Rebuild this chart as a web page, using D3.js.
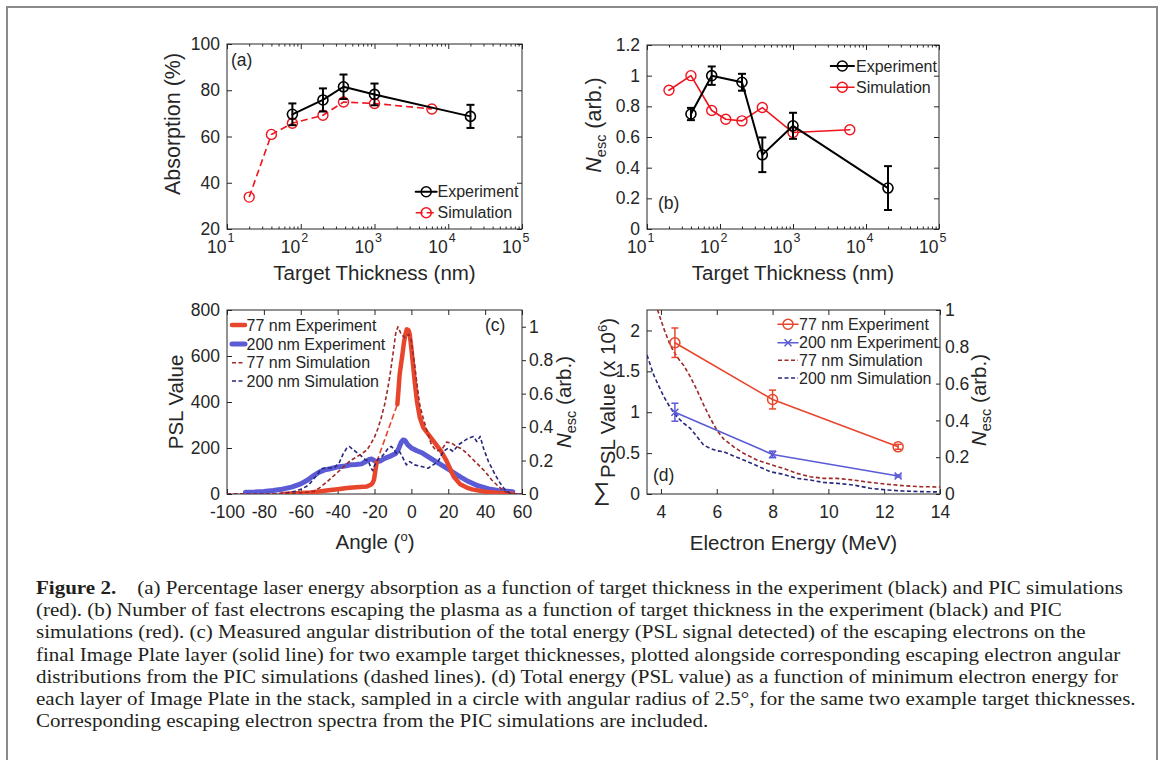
<!DOCTYPE html>
<html><head><meta charset="utf-8">
<script src="https://cdn.jsdelivr.net/npm/d3@7"></script>
<style>
body{margin:0;background:#fff}
svg text{font-family:"Liberation Sans",Arial,sans-serif;fill:#262626}
</style>
</head><body>
<svg id="fig" width="1165" height="760"></svg>
<script>
// ---------------- DATA ----------------
// (a) absorption vs thickness
const absExpThick = [77, 200, 380, 1000, 20000];
const absExpVal   = [69.6, 75.8, 81.5, 78.2, 68.7];
const absExpErr   = [4.7, 5.0, 5.3, 4.7, 5.0];
const absSimThick = [20, 40, 77, 200, 380, 1000, 6000];
const absSimVal   = [33.8, 60.9, 65.7, 69.2, 74.9, 74.3, 71.9];
// (b) N_esc vs thickness
const nescExpThick = [40, 77, 200, 380, 1000, 20000];
const nescExpVal   = [0.75, 1.0, 0.957, 0.484, 0.673, 0.267];
const nescExpErr   = [0.04, 0.06, 0.055, 0.113, 0.085, 0.143];
const nescSimThick = [20, 40, 77, 120, 200, 380, 1000, 6000];
const nescSimVal   = [0.905, 1.0, 0.773, 0.716, 0.705, 0.792, 0.629, 0.647];
// (c) angular distributions
const c77ExpAngleA = [-70,-65,-60,-55,-50,-45,-40,-35,-30,-26,-24,-22,-21,-20.3,-19.6,-18.8];
const c77ExpPslA   = [0,2,4,7,11,16,21,26,29,31,33,40,48,61,97,140];
const c77ExpAngleB = [-7.6,-7,-6.4,-5.5,-4.9,-4,-3.3,-2.5,-1.5,-0.9,0,0.9,1.8,3,4.5,6.4,9,12,16,19,21,23,26.5,30,33,40,48,55];
const c77ExpPslB   = [390,450,517,570,604,660,691,716,712,695,633,561,490,405,335,290,262,230,188,145,110,75,42,28,20,10,4,1];
const c200ExpAngle = [-90,-85,-80,-75,-70,-65,-60,-56,-53,-50,-47,-44,-40,-36,-33,-30,-27,-25,-23,-21.5,-20.5,-19,-17,-14.5,-11,-8.5,-7,-5.5,-4.5,-3.5,-2,0,3,6,9,12.5,16,20,23.5,27,31,36,42,47,52,55];
const c200ExpPsl   = [8,9,11,15,21,30,44,62,80,95,105,110,118,122,127,128,131,140,150,152,147,141,143,155,166,176,195,225,235,233,215,200,188,178,163,145,128,108,90,72,54,36,22,15,12,10];
const c77SimAngle = [-100,-90,-80,-70,-62,-57,-53,-50,-46,-43,-40,-36,-33,-30,-27,-24,-22,-20,-18.2,-16.5,-14.5,-13,-11.8,-10,-8.5,-7.3,-6.5,-5.5,-3.6,-1.5,0,1.5,3.3,4.5,6.4,9.1,10.9,13.6,16.4,19.1,21.8,24.5,27.3,30,32.7,36.4,40,43.6,47.3,50.9,54.5,60];
const c77SimVal   = [0,0,0,0.002,0.005,0.01,0.015,0.035,0.07,0.1,0.13,0.17,0.2,0.22,0.24,0.265,0.3,0.34,0.39,0.45,0.535,0.62,0.695,0.835,0.96,1.0,0.98,0.955,0.935,0.955,0.915,0.795,0.635,0.535,0.454,0.354,0.294,0.258,0.264,0.31,0.304,0.284,0.27,0.244,0.214,0.174,0.134,0.084,0.044,0.014,0,0];
const c200SimAngle = [-100,-90,-80,-72,-68,-64,-60,-57,-55,-53,-51,-49,-47,-44,-41.5,-39,-37,-35,-33.6,-31,-28,-25,-23.5,-22,-21,-20,-18,-16,-14.5,-12.5,-11,-10,-8.2,-6.4,-4.5,-2.7,-0.9,1.8,5.5,9.1,11.8,14.5,17.3,20,22.7,25.5,28.2,30.9,33.6,35.5,37.3,39.1,41.8,45.5,48.2,50.9,53.6,56,60];
const c200SimVal   = [0,0,0,0.002,0.006,0.014,0.028,0.045,0.063,0.09,0.115,0.15,0.155,0.155,0.16,0.19,0.24,0.275,0.284,0.26,0.235,0.205,0.2,0.16,0.14,0.17,0.21,0.225,0.244,0.275,0.285,0.274,0.244,0.254,0.214,0.174,0.194,0.174,0.164,0.154,0.174,0.194,0.254,0.274,0.254,0.294,0.314,0.334,0.344,0.314,0.344,0.274,0.194,0.114,0.064,0.024,0.004,0,0];
// (d) PSL vs electron energy
const dExpEnergy = [4.5, 8, 12.5];
const d77ExpPsl  = [1.85, 1.155, 0.577];
const d77ExpErr  = [0.18, 0.115, 0.03];
const d200ExpPsl = [1.0, 0.484, 0.22];
const d200ExpErr = [0.11, 0.04, 0.012];
const dSimEnergy = [3.5,3.74,3.88,4.1,4.33,4.57,4.81,5.05,5.29,5.53,5.77,6.0,6.24,6.6,6.96,7.44,7.91,8.39,8.87,9.35,9.82,10.3,10.9,11.5,12.1,12.7,13.3,14];
const d77SimVal  = [1.35,1.12,1.0,0.9,0.81,0.746,0.70,0.638,0.565,0.484,0.411,0.348,0.30,0.257,0.221,0.185,0.161,0.139,0.112,0.094,0.085,0.085,0.076,0.063,0.053,0.045,0.04,0.038];
const d200SimVal = [0.755,0.647,0.60,0.53,0.47,0.42,0.385,0.357,0.312,0.266,0.248,0.235,0.23,0.207,0.185,0.154,0.121,0.107,0.085,0.076,0.063,0.058,0.049,0.031,0.022,0.016,0.013,0.011];
// ticks
const logTicks = [10, 100, 1000, 10000, 100000];
const logMinor = [20,30,40,50,60,70,80,90,200,300,400,500,600,700,800,900,2000,3000,4000,5000,6000,7000,8000,9000,20000,30000,40000,50000,60000,70000,80000,90000];
const aYTicks = [20, 40, 60, 80, 100];
const bYTicks = [0, 0.2, 0.4, 0.6, 0.8, 1, 1.2];
const cXTicks = [-100, -80, -60, -40, -20, 0, 20, 40, 60];
const cYTicks = [0, 200, 400, 600, 800];
const cRTicks = [0, 0.2, 0.4, 0.6, 0.8, 1];
const dXTicks = [4, 6, 8, 10, 12, 14];
const dYTicks = [0, 0.5, 1, 1.5, 2];
const dRTicks = [0, 0.2, 0.4, 0.6, 0.8, 1];
// legend labels
const legAB = ["Experiment", "Simulation"];
const legCD = ["77 nm Experiment", "200 nm Experiment", "77 nm Simulation", "200 nm Simulation"];
const captionLines = [
  "(a) Percentage laser energy absorption as a function of target thickness in the experiment (black) and PIC simulations",
  "(red). (b) Number of fast electrons escaping the plasma as a function of target thickness in the experiment (black) and PIC",
  "simulations (red). (c) Measured angular distribution of the total energy (PSL signal detected) of the escaping electrons on the",
  "final Image Plate layer (solid line) for two example target thicknesses, plotted alongside corresponding escaping electron angular",
  "distributions from the PIC simulations (dashed lines). (d) Total energy (PSL value) as a function of minimum electron energy for",
  "each layer of Image Plate in the stack, sampled in a circle with angular radius of 2.5°, for the same two example target thicknesses.",
  "Corresponding escaping electron spectra from the PIC simulations are included."
];

// ---------------- STYLE ----------------
const INK = "#262626";
const RED = "#f0141e";
const C77 = "#e8462c";
const C200 = "#5b5bd6";
const C77S = "#9c2a28";
const C200S = "#27277c";
const TICKFS = 17.5, LABFS = 20.5, LEGFS = 16;

const svg = d3.select("#fig");
svg.append("rect").attr("x", 7).attr("y", 7).attr("width", 1150).attr("height", 770)
  .attr("fill", "none").attr("stroke", "#8a8a8a").attr("stroke-width", 2);

function zip(a, b) { return a.map((v, i) => [v, b[i]]); }

function styleAxis(s) {
  s.select(".domain").remove();
  s.selectAll("line").attr("stroke", INK).attr("stroke-width", 1);
  s.selectAll("text").attr("font-size", TICKFS).attr("font-family", "Liberation Sans, Arial, sans-serif").attr("fill", INK);
  s.attr("font-size", null).attr("font-family", null);
}
function box(g, x, y) {
  const [x0, x1] = x.range(), [y1, y0] = y.range();
  g.append("rect").attr("x", x0).attr("y", y0).attr("width", x1 - x0).attr("height", y1 - y0)
    .attr("fill", "none").attr("stroke", INK).attr("stroke-width", 1);
}
function logXAxis(g, x, y) {
  const [y1, y0] = y.range();
  g.append("g").attr("transform", `translate(0,${y1})`).call(d3.axisBottom(x).tickValues(logTicks).tickSize(-5).tickFormat("")).call(styleAxis);
  g.append("g").attr("transform", `translate(0,${y1})`).call(d3.axisBottom(x).tickValues(logMinor).tickSize(-2.5).tickFormat("")).call(styleAxis);
  g.append("g").attr("transform", `translate(0,${y0})`).call(d3.axisTop(x).tickValues(logTicks).tickSize(-5).tickFormat("")).call(styleAxis);
  g.append("g").attr("transform", `translate(0,${y0})`).call(d3.axisTop(x).tickValues(logMinor).tickSize(-2.5).tickFormat("")).call(styleAxis);
  logTicks.forEach(v => {
    const e = Math.round(Math.log10(v));
    g.append("text").attr("x", x(v) - 0.5).attr("y", y1 + 24).attr("text-anchor", "end").attr("font-size", TICKFS).text("10");
    g.append("text").attr("x", x(v) + 0.5).attr("y", y1 + 13).attr("text-anchor", "start").attr("font-size", 12.5).text(String(e));
  });
}
function leftAxis(g, y, x0, ticks, mirrorX) {
  g.append("g").attr("transform", `translate(${x0},0)`).call(d3.axisLeft(y).tickValues(ticks).tickSize(-5).tickPadding(7).tickFormat(d => String(d))).call(styleAxis);
  if (mirrorX !== undefined)
    g.append("g").attr("transform", `translate(${mirrorX},0)`).call(d3.axisRight(y).tickValues(ticks).tickSize(-5).tickFormat("")).call(styleAxis);
}
function linXAxis(g, x, y, ticks) {
  const [y1, y0] = y.range();
  g.append("g").attr("transform", `translate(0,${y1})`).call(d3.axisBottom(x).tickValues(ticks).tickSize(-5).tickPadding(12).tickFormat(d => String(d))).call(styleAxis);
  g.append("g").attr("transform", `translate(0,${y0})`).call(d3.axisTop(x).tickValues(ticks).tickSize(-5).tickFormat("")).call(styleAxis);
}
function yLabel(g, x, y, build) {
  const t = g.append("text").attr("transform", `translate(${x},${y}) rotate(-90)`).attr("text-anchor", "middle").attr("font-size", LABFS);
  build(t);
  return t;
}
function nescLabel(t) {
  t.append("tspan").attr("font-style", "italic").text("N");
  t.append("tspan").attr("font-size", 14.5).attr("dy", 5).text("esc");
  t.append("tspan").attr("dy", -5).text(" (arb.)");
}
function xLabel(g, x, y, text) {
  return g.append("text").attr("x", x).attr("y", y).attr("text-anchor", "middle").attr("font-size", LABFS).text(text);
}
function errorBars(g, x, y, xs, vs, es, color, cap, w) {
  xs.forEach((xv, i) => {
    const cx = x(xv), yt = y(vs[i] + es[i]), yb = y(vs[i] - es[i]);
    g.append("line").attr("x1", cx).attr("x2", cx).attr("y1", yt).attr("y2", yb).attr("stroke", color).attr("stroke-width", w);
    g.append("line").attr("x1", cx - cap).attr("x2", cx + cap).attr("y1", yt).attr("y2", yt).attr("stroke", color).attr("stroke-width", w);
    g.append("line").attr("x1", cx - cap).attr("x2", cx + cap).attr("y1", yb).attr("y2", yb).attr("stroke", color).attr("stroke-width", w);
  });
}
function circles(g, pts, color, r, w) {
  g.selectAll(null).data(pts).enter().append("circle").attr("cx", d => d[0]).attr("cy", d => d[1]).attr("r", r)
    .attr("fill", "none").attr("stroke", color).attr("stroke-width", w);
}
function crosses(g, pts, color, s, w) {
  pts.forEach(p => {
    g.append("path").attr("d", `M${p[0]-s},${p[1]-s}L${p[0]+s},${p[1]+s}M${p[0]-s},${p[1]+s}L${p[0]+s},${p[1]-s}`)
      .attr("stroke", color).attr("stroke-width", w).attr("fill", "none");
  });
}
function path(g, pts, color, w, dash) {
  const p = g.append("path").attr("d", d3.line()(pts)).attr("fill", "none").attr("stroke", color).attr("stroke-width", w)
    .attr("stroke-linejoin", "round").attr("stroke-linecap", "round");
  if (dash) p.attr("stroke-dasharray", dash).attr("stroke-linecap", "butt");
  return p;
}

// ---------------- PANEL (a) ----------------
{
  const g = svg.append("g");
  const x = d3.scaleLog().domain([10, 1e5]).range([227, 522]);
  const y = d3.scaleLinear().domain([20, 100]).range([229, 44]);
  box(g, x, y);
  logXAxis(g, x, y);
  leftAxis(g, y, 227, aYTicks, 522);
  const sim = zip(absSimThick, absSimVal).map(d => [x(d[0]), y(d[1])]);
  path(g, sim, RED, 1.6, "7,4");
  circles(g, sim, RED, 5, 1.4);
  const exp = zip(absExpThick, absExpVal).map(d => [x(d[0]), y(d[1])]);
  path(g, exp, "#000", 2);
  errorBars(g, x, y, absExpThick, absExpVal, absExpErr, "#000", 4, 2);
  circles(g, exp, "#000", 5, 1.6);
  g.append("text").attr("x", 231).attr("y", 66).attr("font-size", TICKFS).text("(a)");
  xLabel(g, 374.5, 280, "Target Thickness (nm)");
  yLabel(g, 180, 124, t => t.text("Absorption (%)")).attr("font-size", 21.5);
  [[191.7, "#000", null], [212.7, RED, "7,4"]].forEach((r, i) => {
    path(g, [[415.7, r[0]], [436.7, r[0]]], r[1], r[1] === "#000" ? 2 : 1.6, r[2]);
    circles(g, [[426.2, r[0]]], r[1], 5, 1.5);
    g.append("text").attr("x", 437.5).attr("y", r[0]).attr("dy", "0.36em").attr("font-size", LEGFS).text(legAB[i]);
  });
}

// ---------------- PANEL (b) ----------------
{
  const g = svg.append("g");
  const x = d3.scaleLog().domain([10, 1e5]).range([647, 939]);
  const y = d3.scaleLinear().domain([0, 1.2]).range([229, 45]);
  box(g, x, y);
  logXAxis(g, x, y);
  leftAxis(g, y, 647, bYTicks, 939);
  const sim = zip(nescSimThick, nescSimVal).map(d => [x(d[0]), y(d[1])]);
  path(g, sim, RED, 1.6);
  circles(g, sim, RED, 5, 1.4);
  const exp = zip(nescExpThick, nescExpVal).map(d => [x(d[0]), y(d[1])]);
  path(g, exp, "#000", 2);
  errorBars(g, x, y, nescExpThick, nescExpVal, nescExpErr, "#000", 4, 2);
  circles(g, exp, "#000", 5, 1.6);
  g.append("text").attr("x", 658).attr("y", 209).attr("font-size", TICKFS).text("(b)");
  xLabel(g, 793, 280, "Target Thickness (nm)");
  yLabel(g, 601, 125, nescLabel).attr("font-size", 21.5);
  [[66, "#000"], [87.3, RED]].forEach((r, i) => {
    path(g, [[830.7, r[0]], [854, r[0]]], r[1], r[1] === "#000" ? 2 : 1.6);
    circles(g, [[842.3, r[0]]], r[1], 5, 1.5);
    g.append("text").attr("x", 856).attr("y", r[0]).attr("dy", "0.36em").attr("font-size", LEGFS).text(legAB[i]);
  });
}

// ---------------- PANEL (c) ----------------
{
  const g = svg.append("g");
  const x = d3.scaleLinear().domain([-100, 60]).range([227, 522]);
  const y = d3.scaleLinear().domain([0, 800]).range([494, 310]);
  const yr = d3.scaleLinear().domain([0, 1.1]).range([494, 310]);
  box(g, x, y);
  linXAxis(g, x, y, cXTicks);
  g.append("g").attr("transform", `translate(227,0)`).call(d3.axisLeft(y).tickValues(cYTicks).tickSize(-5).tickPadding(7).tickFormat(d => String(d))).call(styleAxis);
  g.append("g").attr("transform", `translate(522,0)`).call(d3.axisRight(yr).tickValues(cRTicks).tickSize(4).tickPadding(3).tickFormat(d => String(d))).call(styleAxis);
  svg.append("clipPath").attr("id", "clipc").append("rect").attr("x", 227).attr("y", 310).attr("width", 295).attr("height", 184);
  const pg = g.append("g").attr("clip-path", "url(#clipc)");
  const s200 = zip(c200SimAngle, c200SimVal).map(d => [x(d[0]), yr(d[1])]);
  const s77 = zip(c77SimAngle, c77SimVal).map(d => [x(d[0]), yr(d[1])]);
  const eA = zip(c77ExpAngleA, c77ExpPslA).map(d => [x(d[0]), y(d[1])]);
  const eB = zip(c77ExpAngleB, c77ExpPslB).map(d => [x(d[0]), y(d[1])]);
  const e200 = zip(c200ExpAngle, c200ExpPsl).map(d => [x(d[0]), y(d[1])]);
  path(pg, e200, C200, 5);
  path(pg, eA, C77, 4.5);
  path(pg, [eA[eA.length - 1], eB[0]], C77, 1.6, "6,3");
  path(pg, eB, C77, 4.5);
  path(pg, s200, C200S, 1.6, "4,2.5");
  path(pg, s77, C77S, 1.6, "4,2.5");
  g.append("text").attr("x", 485).attr("y", 331).attr("font-size", TICKFS).text("(c)");
  const xl = g.append("text").attr("x", 375).attr("y", 549).attr("text-anchor", "middle").attr("font-size", LABFS);
  xl.append("tspan").text("Angle (");
  xl.append("tspan").attr("font-size", 13).attr("dy", -8).text("o");
  xl.append("tspan").attr("dy", 8).text(")");
  yLabel(g, 183, 402, t => t.text("PSL Value"));
  yLabel(g, 571, 402, nescLabel);
  const rows = [325, 344, 362.7, 381];
  const st = [[C77, 4.5, null], [C200, 5, null], [C77S, 1.6, "4,2.5"], [C200S, 1.6, "4,2.5"]];
  rows.forEach((ry, i) => {
    path(g, [[232, ry], [245, ry]], st[i][0], st[i][1], st[i][2]);
    g.append("text").attr("x", 246.5).attr("y", ry).attr("dy", "0.36em").attr("font-size", LEGFS).text(legCD[i]);
  });
}

// ---------------- PANEL (d) ----------------
{
  const g = svg.append("g");
  const x = d3.scaleLinear().domain([3.5, 14]).range([647, 940]);
  const y = d3.scaleLinear().domain([0, 2.25]).range([494, 310]);
  const yr = d3.scaleLinear().domain([0, 1]).range([494, 310]);
  box(g, x, y);
  linXAxis(g, x, y, dXTicks);
  g.append("g").attr("transform", `translate(647,0)`).call(d3.axisLeft(y).tickValues(dYTicks).tickSize(-5).tickPadding(7).tickFormat(d => String(d))).call(styleAxis);
  g.append("g").attr("transform", `translate(940,0)`).call(d3.axisRight(yr).tickValues(dRTicks).tickSize(-4).tickPadding(5).tickFormat(d => String(d))).call(styleAxis);
  svg.append("clipPath").attr("id", "clipd").append("rect").attr("x", 647).attr("y", 310).attr("width", 293).attr("height", 184);
  const pg = g.append("g").attr("clip-path", "url(#clipd)");
  path(pg, zip(dSimEnergy, d77SimVal).map(d => [x(d[0]), yr(d[1])]), C77S, 1.6, "4,2.5");
  path(pg, zip(dSimEnergy, d200SimVal).map(d => [x(d[0]), yr(d[1])]), C200S, 1.6, "4,2.5");
  const e77 = zip(dExpEnergy, d77ExpPsl).map(d => [x(d[0]), y(d[1])]);
  const e200 = zip(dExpEnergy, d200ExpPsl).map(d => [x(d[0]), y(d[1])]);
  path(g, e77, C77, 1.6);
  errorBars(g, x, y, dExpEnergy, d77ExpPsl, d77ExpErr, C77, 3.5, 1.5);
  circles(g, e77, C77, 5, 1.5);
  path(g, e200, C200, 1.6);
  errorBars(g, x, y, dExpEnergy, d200ExpPsl, d200ExpErr, C200, 3.5, 1.5);
  crosses(g, e200, C200, 3.5, 1.5);
  g.append("text").attr("x", 653).attr("y", 481).attr("font-size", TICKFS).text("(d)");
  xLabel(g, 793.5, 550, "Electron Energy (MeV)");
  yLabel(g, 615, 398, t => {
    t.append("tspan").text("PSL Value (x 10");
    t.append("tspan").attr("font-size", 13).attr("dy", -8).text("6");
    t.append("tspan").attr("dy", 8).text(")");
  });
  g.append("text").attr("x", 601.5).attr("y", 500).attr("text-anchor", "middle").attr("font-size", 24).text("∑");
  yLabel(g, 986, 400, nescLabel);
  const rows = [324.3, 342.7, 360.3, 378];
  const st = [[C77, "o", null], [C200, "x", null], [C77S, null, "4,2.5"], [C200S, null, "4,2.5"]];
  rows.forEach((ry, i) => {
    path(g, [[778, ry], [798, ry]], st[i][0], 1.6, st[i][2]);
    if (st[i][1] === "o") circles(g, [[788, ry]], st[i][0], 5, 1.5);
    if (st[i][1] === "x") crosses(g, [[788, ry]], st[i][0], 3.5, 1.5);
    g.append("text").attr("x", 799).attr("y", ry).attr("dy", "0.36em").attr("font-size", LEGFS).text(legCD[i]);
  });
}

// ---------------- CAPTION ----------------
{
  const cap = svg.append("g");
  const texts = captionLines.map((line, i) => {
    const t = cap.append("text").attr("x", 36).attr("y", 594 + i * 22.2)
      .style("font-family", "'Liberation Serif', 'Times New Roman', serif").attr("font-size", 18).style("fill", "#231f20");
    if (i === 0) {
      t.append("tspan").attr("font-weight", "bold").text("Figure 2.");
      t.append("tspan").text("\u2003" + line);
    } else t.text(line);
    return t;
  });
  // one common horizontal scale, taken from the first (full) line
  const nat = texts.map(t => t.node().getComputedTextLength());
  const k = (1123 - 36) / nat[0];
  texts.forEach((t, i) => t.attr("textLength", nat[i] * k).attr("lengthAdjust", "spacingAndGlyphs"));
}
</script>
</body></html>
